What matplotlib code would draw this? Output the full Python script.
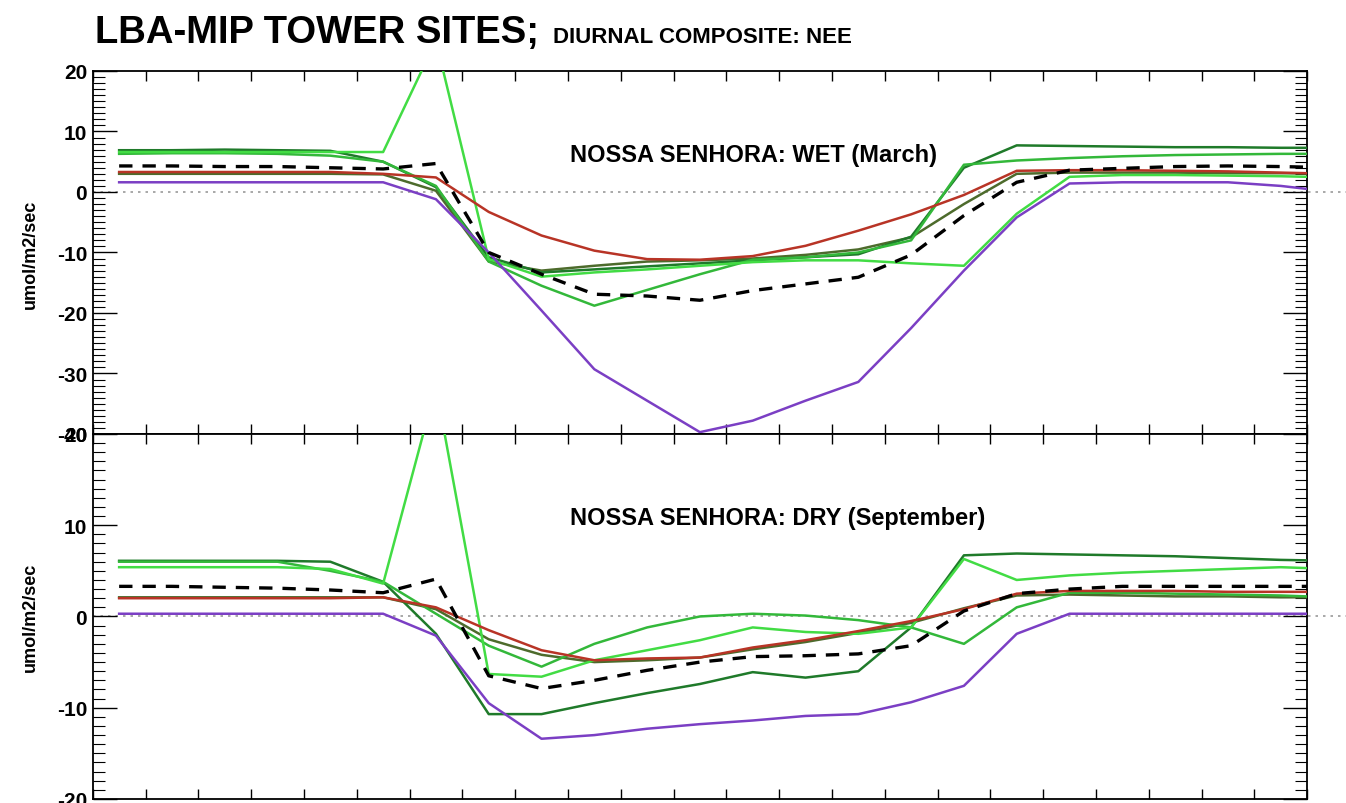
import numpy as np
import matplotlib
matplotlib.use('Agg')
import matplotlib.pyplot as plt
from matplotlib.ticker import MultipleLocator

plt.rcParams['font.family'] = ['Liberation Sans', 'DejaVu Sans']
plt.rcParams['axes.unicode_minus'] = False

# hourly composite, values at the middle of each hour
hours = np.arange(24) + 0.5

# wet season (March)
wet_purple = [1.6, 1.6, 1.6, 1.6, 1.6, 1.6, -1.2, -10.0, -19.6, -29.3, -34.5, -39.7,
              -37.8, -34.5, -31.4, -22.5, -13.0, -4.2, 1.4, 1.6, 1.6, 1.6, 1.0, 0.0]
wet_red = [3.3, 3.3, 3.3, 3.3, 3.3, 3.0, 2.4, -3.3, -7.2, -9.7, -11.1, -11.2,
           -10.6, -8.9, -6.4, -3.7, -0.5, 3.5, 3.6, 3.6, 3.5, 3.4, 3.2, 3.0]
wet_mean = [4.3, 4.3, 4.2, 4.2, 4.0, 3.8, 4.7, -10.0, -13.6, -16.9, -17.2, -17.9,
            -16.3, -15.2, -14.1, -10.4, -3.9, 1.6, 3.6, 3.9, 4.2, 4.3, 4.2, 4.0]
wet_dkgreen = [6.9, 6.9, 7.0, 6.9, 6.8, 5.0, 0.8, -10.8, -13.3, -12.8, -12.3, -11.8,
               -11.3, -10.8, -10.3, -7.4, 4.0, 7.7, 7.6, 7.5, 7.4, 7.4, 7.3, 7.3]
wet_spike = [6.6, 6.6, 6.6, 6.6, 6.6, 6.6, 25.0, -11.1, -14.0, -13.3, -12.8, -12.2,
             -11.6, -11.3, -11.3, -11.8, -12.2, -3.6, 2.5, 2.8, 2.8, 2.7, 2.6, 2.4]
wet_dip = [6.3, 6.4, 6.4, 6.3, 6.0, 5.0, 1.0, -11.5, -15.5, -18.8, -16.2, -13.6,
           -11.2, -10.8, -10.0, -8.0, 4.5, 5.2, 5.6, 5.9, 6.1, 6.2, 6.3, 6.3]
wet_olive = [3.0, 3.0, 3.0, 3.0, 3.0, 2.9, 0.2, -11.5, -13.0, -12.2, -11.5, -11.3,
             -11.0, -10.4, -9.5, -7.5, -2.0, 3.0, 3.2, 3.2, 3.2, 3.1, 3.1, 3.0]

# dry season (September)
dry_purple = [0.3, 0.3, 0.3, 0.3, 0.3, 0.3, -2.1, -9.5, -13.4, -13.0, -12.3, -11.8,
              -11.4, -10.9, -10.7, -9.4, -7.6, -1.9, 0.3, 0.3, 0.3, 0.3, 0.3, 0.3]
dry_red = [2.0, 2.0, 2.0, 2.0, 2.0, 2.1, 1.0, -1.5, -3.7, -4.8, -4.6, -4.5,
           -3.4, -2.6, -1.6, -0.5, 0.8, 2.5, 2.8, 2.8, 2.8, 2.7, 2.7, 2.7]
dry_mean = [3.3, 3.3, 3.2, 3.1, 2.9, 2.6, 4.1, -6.5, -7.9, -7.0, -5.9, -5.0,
            -4.4, -4.3, -4.1, -3.2, 0.6, 2.5, 3.0, 3.3, 3.3, 3.3, 3.3, 3.3]
dry_dkgreen = [6.1, 6.1, 6.1, 6.1, 6.0, 3.8, -1.9, -10.7, -10.7, -9.5, -8.4, -7.4,
               -6.1, -6.7, -6.0, -1.2, 6.7, 6.9, 6.8, 6.7, 6.6, 6.4, 6.2, 6.1]
dry_spike = [5.4, 5.4, 5.4, 5.4, 5.2, 3.6, 25.2, -6.3, -6.6, -4.8, -3.7, -2.6,
             -1.2, -1.7, -1.9, -1.2, 6.3, 4.0, 4.5, 4.8, 5.0, 5.2, 5.4, 5.2]
dry_dip = [6.0, 6.0, 6.0, 6.0, 5.0, 3.8, 0.3, -3.2, -5.5, -3.0, -1.2, 0.0,
           0.3, 0.1, -0.4, -1.2, -3.0, 1.0, 2.6, 2.6, 2.5, 2.4, 2.3, 2.1]
dry_olive = [2.1, 2.1, 2.1, 2.1, 2.1, 2.1, 0.8, -2.5, -4.2, -5.0, -4.8, -4.5,
             -3.6, -2.8, -1.8, -0.7, 0.9, 2.3, 2.4, 2.3, 2.2, 2.2, 2.1, 2.1]

panels = [
    ('NOSSA SENHORA: WET (March)', (-40, 20),
     [wet_olive, wet_dkgreen, wet_dip, wet_spike, wet_purple, wet_red, wet_mean]),
    ('NOSSA SENHORA: DRY (September)', (-20, 20),
     [dry_olive, dry_dkgreen, dry_dip, dry_spike, dry_purple, dry_red, dry_mean]),
]

colors = ['#4d6b2c', '#1f7a2a', '#33b83a', '#42dc44', '#7b3fc4', '#b83426', 'black']

fig = plt.figure(figsize=(13.46, 8.04), dpi=100)
ax_top = fig.add_axes([0.0689, 0.459, 0.9022, 0.4515])
ax_bot = fig.add_axes([0.0689, 0.005, 0.9022, 0.454])

for ax, (label, ylim, series) in zip([ax_top, ax_bot], panels):
    ax.axhline(0, xmin=0, xmax=1.04, color='#999999', lw=1.2, ls=(0, (1.5, 3)),
               clip_on=False, zorder=1)
    for vals, c in zip(series, colors):
        if c == 'black':
            ax.plot(hours, vals, color=c, lw=2.4, ls=(0, (4, 3)), zorder=4)
        else:
            ax.plot(hours, vals, color=c, lw=1.8, zorder=3)
    ax.set_xlim(0, 23)
    ax.set_ylim(*ylim)
    ax.xaxis.set_major_locator(MultipleLocator(1))
    ax.yaxis.set_major_locator(MultipleLocator(10))
    ax.yaxis.set_minor_locator(MultipleLocator(1))
    ax.tick_params(axis='x', which='both', direction='in', top=True, bottom=True,
                   length=7, width=1, labelbottom=False)
    ax.tick_params(axis='y', which='major', direction='in', left=True, right=True,
                   length=17, width=1, labelsize=15, pad=4)
    ax.tick_params(axis='y', which='minor', direction='in', left=True, right=True,
                   length=8.5, width=0.8)
    for t in ax.get_yticklabels():
        t.set_fontweight('bold')
    for s in ax.spines.values():
        s.set_linewidth(1.3)
    ax.text(0.393, 0.77, label, transform=ax.transAxes, fontsize=17,
            fontweight='bold', va='center', ha='left')

fig.text(0.0223, 0.684, 'umol/m2/sec', rotation=90, fontsize=13,
         fontweight='bold', va='center', ha='center')
fig.text(0.0223, 0.232, 'umol/m2/sec', rotation=90, fontsize=13,
         fontweight='bold', va='center', ha='center')

fig.text(0.0706, 0.947, 'LBA-MIP TOWER SITES;', fontsize=27.5, fontweight='bold',
         va='baseline', ha='left')
fig.text(0.411, 0.947, 'DIURNAL COMPOSITE: NEE', fontsize=16, fontweight='bold',
         va='baseline', ha='left')

fig.savefig('out.png', dpi=100)
